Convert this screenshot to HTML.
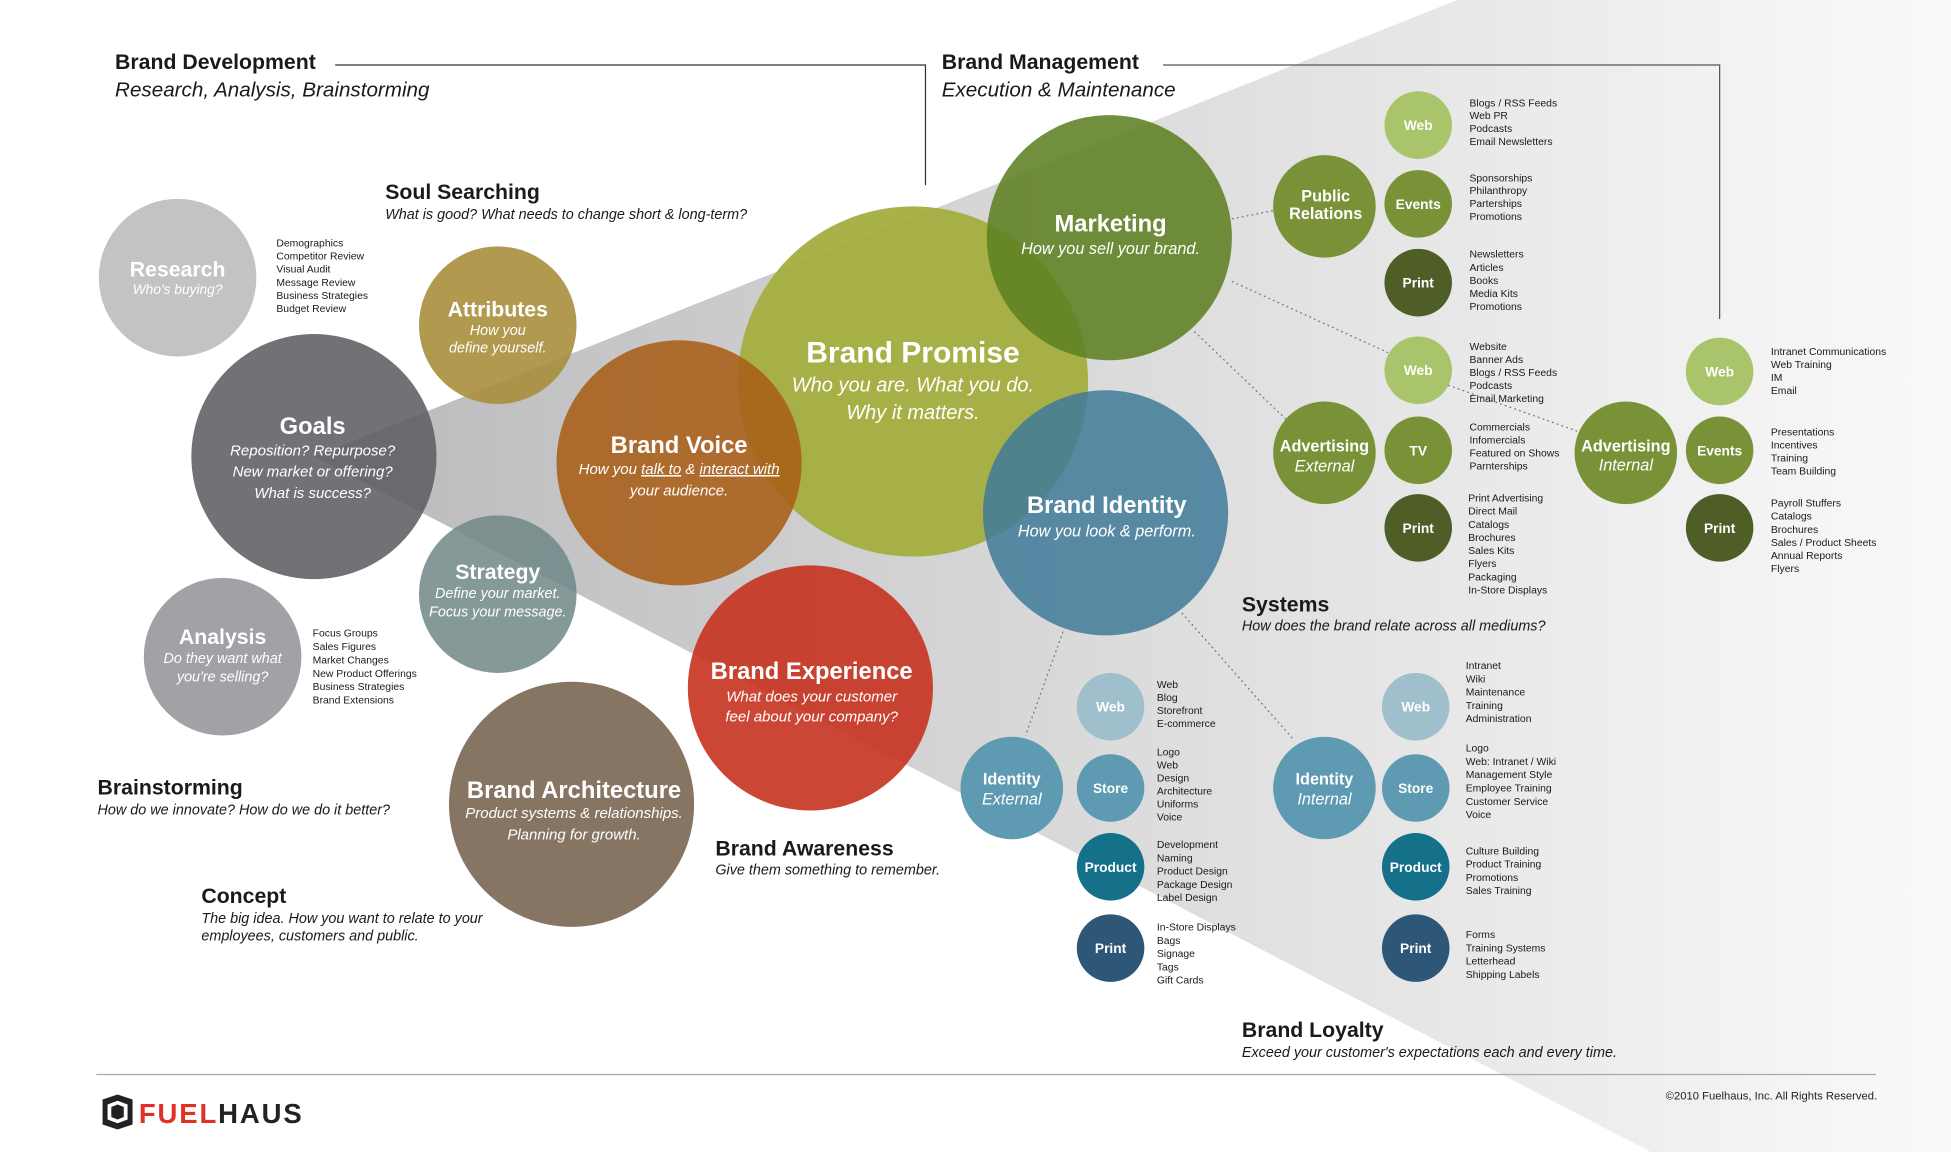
<!DOCTYPE html>
<html><head><meta charset="utf-8"><style>
html,body{margin:0;padding:0;background:#fff;width:1951px;height:1152px;overflow:hidden}
svg{display:block}
text{font-family:"Liberation Sans Narrow","Liberation Sans",sans-serif}
.h{font-weight:bold;font-size:17px;fill:#1a1a1a}
.s{font-style:italic;font-size:11.5px;fill:#1a1a1a}
.l{font-size:8.3px;fill:#1a1a1a}
.ct{fill:#fff;font-weight:bold;text-anchor:middle}
.ci{fill:#fff;font-style:italic;text-anchor:middle}
</style></head><body>
<svg width="1951" height="1152" viewBox="0 0 1560 921" preserveAspectRatio="none" xmlns="http://www.w3.org/2000/svg">
<defs><linearGradient id="g" x1="0" y1="0" x2="1" y2="0">
<stop offset="0" stop-color="#b9b9bb"/><stop offset="0.5" stop-color="#dcdcdd"/><stop offset="1" stop-color="#fafafa"/></linearGradient></defs>
<polygon points="251,365 1165,0 1560,0 1560,921 1320,921" fill="url(#g)"/>
<polyline points="268,52 740,52 740,148" fill="none" stroke="#333" stroke-width="1"/>
<polyline points="930,52 1375,52 1375,255" fill="none" stroke="#555" stroke-width="1"/>
<line x1="77" y1="859" x2="1500" y2="859" stroke="#aaa" stroke-width="1"/>
<g stroke="#777" stroke-width="1" stroke-dasharray="1.5,2.5" fill="none">
<line x1="985" y1="175" x2="1020" y2="168"/>
<line x1="985" y1="225" x2="1110" y2="282"/>
<line x1="1158" y1="308" x2="1262" y2="345"/>
<line x1="955" y1="265" x2="1028" y2="335"/>
<line x1="850" y1="505" x2="820" y2="588"/>
<line x1="945" y1="490" x2="1035" y2="592"/>
</g>
<g>
<circle cx="142" cy="222" r="63" fill="#c3c3c5"/>
<circle cx="178" cy="525" r="63" fill="#a2a2a6"/>
<circle cx="398" cy="260" r="63" fill="#a88f3c" opacity="0.9"/>
<circle cx="251" cy="365" r="98" fill="#5e5e63" opacity="0.88"/>
<circle cx="398" cy="475" r="63" fill="#6f8786" opacity="0.85"/>
<circle cx="457" cy="643" r="98" fill="#806e5a" opacity="0.95"/>
<circle cx="730" cy="305" r="140" fill="#a3ae3e" opacity="0.95"/>
<circle cx="543" cy="370" r="98" fill="#a85e18" opacity="0.88"/>
<circle cx="648" cy="550" r="98" fill="#c7321f" opacity="0.9"/>
<circle cx="887" cy="190" r="98" fill="#5f7f22" opacity="0.88"/>
<circle cx="884" cy="410" r="98" fill="#3f7a99" opacity="0.85"/>
</g>
<g>
<circle cx="1059" cy="165" r="41" fill="#7a9237"/>
<circle cx="1134" cy="100" r="27" fill="#a9c46a"/>
<circle cx="1134" cy="163" r="27" fill="#7a9237"/>
<circle cx="1134" cy="226" r="27" fill="#4e5e26"/>
<circle cx="1059" cy="362" r="41" fill="#7a9237"/>
<circle cx="1134" cy="296" r="27" fill="#a9c46a"/>
<circle cx="1134" cy="360" r="27" fill="#7a9237"/>
<circle cx="1134" cy="422" r="27" fill="#4e5e26"/>
<circle cx="1300" cy="362" r="41" fill="#7a9237"/>
<circle cx="1375" cy="297" r="27" fill="#a9c46a"/>
<circle cx="1375" cy="360" r="27" fill="#7a9237"/>
<circle cx="1375" cy="422" r="27" fill="#4e5e26"/>
<circle cx="809" cy="630" r="41" fill="#5f9ab3"/>
<circle cx="888" cy="565" r="27" fill="#9fbfcc"/>
<circle cx="888" cy="630" r="27" fill="#5f9ab3"/>
<circle cx="888" cy="693" r="27" fill="#15708a"/>
<circle cx="888" cy="758" r="27" fill="#2e5676"/>
<circle cx="1059" cy="630" r="41" fill="#5f9ab3"/>
<circle cx="1132" cy="565" r="27" fill="#9fbfcc"/>
<circle cx="1132" cy="630" r="27" fill="#5f9ab3"/>
<circle cx="1132" cy="693" r="27" fill="#15708a"/>
<circle cx="1132" cy="758" r="27" fill="#2e5676"/>
</g>
<g font-size="11">
<text class="ct" x="1134" y="104">Web</text><text class="ct" x="1134" y="167">Events</text><text class="ct" x="1134" y="230">Print</text>
<text class="ct" x="1134" y="300">Web</text><text class="ct" x="1134" y="364">TV</text><text class="ct" x="1134" y="426">Print</text>
<text class="ct" x="1375" y="301">Web</text><text class="ct" x="1375" y="364">Events</text><text class="ct" x="1375" y="426">Print</text>
<text class="ct" x="888" y="569">Web</text><text class="ct" x="888" y="634">Store</text><text class="ct" x="888" y="697">Product</text><text class="ct" x="888" y="762">Print</text>
<text class="ct" x="1132" y="569">Web</text><text class="ct" x="1132" y="634">Store</text><text class="ct" x="1132" y="697">Product</text><text class="ct" x="1132" y="762">Print</text>
</g>
<g font-size="13">
<text class="ct" x="1060" y="161">Public</text><text class="ct" x="1060" y="175">Relations</text>
<text class="ct" x="1059" y="361">Advertising</text><text class="ci" x="1059" y="377">External</text>
<text class="ct" x="1300" y="361">Advertising</text><text class="ci" x="1300" y="376">Internal</text>
<text class="ct" x="809" y="627">Identity</text><text class="ci" x="809" y="643">External</text>
<text class="ct" x="1059" y="627">Identity</text><text class="ci" x="1059" y="643">Internal</text>
</g>
<text class="ct" x="142" y="221" font-size="17" fill="#f4f4f4">Research</text><text class="ci" x="142" y="235" font-size="11">Who's buying?</text>
<text class="ct" x="178" y="515" font-size="17">Analysis</text><text class="ci" x="178" y="530" font-size="11.5">Do they want what</text><text class="ci" x="178" y="545" font-size="11.5">you're selling?</text>
<text class="ct" x="398" y="253" font-size="17">Attributes</text><text class="ci" x="398" y="268" font-size="11.5">How you</text><text class="ci" x="398" y="282" font-size="11.5">define yourself.</text>
<text class="ct" x="250" y="347" font-size="19">Goals</text><text class="ci" x="250" y="364" font-size="12">Reposition? Repurpose?</text><text class="ci" x="250" y="381" font-size="12">New market or offering?</text><text class="ci" x="250" y="398" font-size="12">What is success?</text>
<text class="ct" x="398" y="463" font-size="17">Strategy</text><text class="ci" x="398" y="478" font-size="11.5">Define your market.</text><text class="ci" x="398" y="493" font-size="11.5">Focus your message.</text>
<text class="ct" x="543" y="362" font-size="19">Brand Voice</text><text class="ci" x="543" y="379" font-size="12">How you <tspan text-decoration="underline">talk to</tspan> &amp; <tspan text-decoration="underline">interact with</tspan></text><text class="ci" x="543" y="396" font-size="12">your audience.</text>
<text class="ct" x="730" y="290" font-size="24">Brand Promise</text><text class="ci" x="730" y="313" font-size="16">Who you are. What you do.</text><text class="ci" x="730" y="335" font-size="16">Why it matters.</text>
<text class="ct" x="888" y="185" font-size="19">Marketing</text><text class="ci" x="888" y="203" font-size="13">How you sell your brand.</text>
<text class="ct" x="885" y="410" font-size="19">Brand Identity</text><text class="ci" x="885" y="429" font-size="13">How you look &amp; perform.</text>
<text class="ct" x="649" y="543" font-size="19">Brand Experience</text><text class="ci" x="649" y="561" font-size="12">What does your customer</text><text class="ci" x="649" y="577" font-size="12">feel about your company?</text>
<text class="ct" x="459" y="638" font-size="19">Brand Architecture</text><text class="ci" x="459" y="654" font-size="12">Product systems &amp; relationships.</text><text class="ci" x="459" y="671" font-size="12">Planning for growth.</text>
<text class="h" x="92" y="55">Brand Development</text><text class="s" x="92" y="77" style="font-size:16.5px">Research, Analysis, Brainstorming</text>
<text class="h" x="753" y="55">Brand Management</text><text class="s" x="753" y="77" style="font-size:16.5px">Execution &amp; Maintenance</text>
<text class="h" x="308" y="159">Soul Searching</text><text class="s" x="308" y="175">What is good? What needs to change short &amp; long-term?</text>
<text class="h" x="78" y="635">Brainstorming</text><text class="s" x="78" y="651">How do we innovate? How do we do it better?</text>
<text class="h" x="161" y="722">Concept</text><text class="s" x="161" y="738">The big idea. How you want to relate to your</text><text class="s" x="161" y="752">employees, customers and public.</text>
<text class="h" x="572" y="684">Brand Awareness</text><text class="s" x="572" y="699">Give them something to remember.</text>
<text class="h" x="993" y="489">Systems</text><text class="s" x="993" y="504">How does the brand relate across all mediums?</text>
<text class="h" x="993" y="829">Brand Loyalty</text><text class="s" x="993" y="845">Exceed your customer's expectations each and every time.</text>
<text x="1501" y="879" font-size="9" text-anchor="end" fill="#222">©2010 Fuelhaus, Inc. All Rights Reserved.</text>
<g transform="translate(82,875)"><polygon points="0,4 12,0 24,4 24,24 12,28 0,24" fill="#222"/><polygon points="4,8 12,5 20,8 20,20 12,23 4,20" fill="#fff"/><polygon points="7,10 12,8 17,10 17,18 12,20 7,18" fill="#222"/></g>
<text x="111" y="898" font-size="22" font-weight="bold" font-family="Liberation Sans" letter-spacing="1.5"><tspan fill="#e03127">FUEL</tspan><tspan fill="#222">HAUS</tspan></text>
<g class="l">
<text x="221" y="197" class="l">Demographics<tspan x="221" dy="10.5">Competitor Review</tspan><tspan x="221" dy="10.5">Visual Audit</tspan><tspan x="221" dy="10.5">Message Review</tspan><tspan x="221" dy="10.5">Business Strategies</tspan><tspan x="221" dy="10.5">Budget Review</tspan></text>
<text x="250" y="509" class="l">Focus Groups<tspan x="250" dy="10.7">Sales Figures</tspan><tspan x="250" dy="10.7">Market Changes</tspan><tspan x="250" dy="10.7">New Product Offerings</tspan><tspan x="250" dy="10.7">Business Strategies</tspan><tspan x="250" dy="10.7">Brand Extensions</tspan></text>
<text x="1175" y="85" class="l">Blogs / RSS Feeds<tspan x="1175" dy="10.3">Web PR</tspan><tspan x="1175" dy="10.3">Podcasts</tspan><tspan x="1175" dy="10.3">Email Newsletters</tspan></text>
<text x="1175" y="145" class="l">Sponsorships<tspan x="1175" dy="10.3">Philanthropy</tspan><tspan x="1175" dy="10.3">Parterships</tspan><tspan x="1175" dy="10.3">Promotions</tspan></text>
<text x="1175" y="206" class="l">Newsletters<tspan x="1175" dy="10.5">Articles</tspan><tspan x="1175" dy="10.5">Books</tspan><tspan x="1175" dy="10.5">Media Kits</tspan><tspan x="1175" dy="10.5">Promotions</tspan></text>
<text x="1175" y="280" class="l">Website<tspan x="1175" dy="10.4">Banner Ads</tspan><tspan x="1175" dy="10.4">Blogs / RSS Feeds</tspan><tspan x="1175" dy="10.4">Podcasts</tspan><tspan x="1175" dy="10.4">Email Marketing</tspan></text>
<text x="1175" y="344" class="l">Commercials<tspan x="1175" dy="10.4">Infomercials</tspan><tspan x="1175" dy="10.4">Featured on Shows</tspan><tspan x="1175" dy="10.4">Parnterships</tspan></text>
<text x="1174" y="401" class="l">Print Advertising<tspan x="1174" dy="10.5">Direct Mail</tspan><tspan x="1174" dy="10.5">Catalogs</tspan><tspan x="1174" dy="10.5">Brochures</tspan><tspan x="1174" dy="10.5">Sales Kits</tspan><tspan x="1174" dy="10.5">Flyers</tspan><tspan x="1174" dy="10.5">Packaging</tspan><tspan x="1174" dy="10.5">In-Store Displays</tspan></text>
<text x="1416" y="284" class="l">Intranet Communications<tspan x="1416" dy="10.4">Web Training</tspan><tspan x="1416" dy="10.4">IM</tspan><tspan x="1416" dy="10.4">Email</tspan></text>
<text x="1416" y="348" class="l">Presentations<tspan x="1416" dy="10.4">Incentives</tspan><tspan x="1416" dy="10.4">Training</tspan><tspan x="1416" dy="10.4">Team Building</tspan></text>
<text x="1416" y="405" class="l">Payroll Stuffers<tspan x="1416" dy="10.5">Catalogs</tspan><tspan x="1416" dy="10.5">Brochures</tspan><tspan x="1416" dy="10.5">Sales / Product Sheets</tspan><tspan x="1416" dy="10.5">Annual Reports</tspan><tspan x="1416" dy="10.5">Flyers</tspan></text>
<text x="925" y="550" class="l">Web<tspan x="925" dy="10.4">Blog</tspan><tspan x="925" dy="10.4">Storefront</tspan><tspan x="925" dy="10.4">E-commerce</tspan></text>
<text x="925" y="604" class="l">Logo<tspan x="925" dy="10.4">Web</tspan><tspan x="925" dy="10.4">Design</tspan><tspan x="925" dy="10.4">Architecture</tspan><tspan x="925" dy="10.4">Uniforms</tspan><tspan x="925" dy="10.4">Voice</tspan></text>
<text x="925" y="678" class="l">Development<tspan x="925" dy="10.6">Naming</tspan><tspan x="925" dy="10.6">Product Design</tspan><tspan x="925" dy="10.6">Package Design</tspan><tspan x="925" dy="10.6">Label Design</tspan></text>
<text x="925" y="744" class="l">In-Store Displays<tspan x="925" dy="10.6">Bags</tspan><tspan x="925" dy="10.6">Signage</tspan><tspan x="925" dy="10.6">Tags</tspan><tspan x="925" dy="10.6">Gift Cards</tspan></text>
<text x="1172" y="535" class="l">Intranet<tspan x="1172" dy="10.6">Wiki</tspan><tspan x="1172" dy="10.6">Maintenance</tspan><tspan x="1172" dy="10.6">Training</tspan><tspan x="1172" dy="10.6">Administration</tspan></text>
<text x="1172" y="601" class="l">Logo<tspan x="1172" dy="10.6">Web: Intranet / Wiki</tspan><tspan x="1172" dy="10.6">Management Style</tspan><tspan x="1172" dy="10.6">Employee Training</tspan><tspan x="1172" dy="10.6">Customer Service</tspan><tspan x="1172" dy="10.6">Voice</tspan></text>
<text x="1172" y="683" class="l">Culture Building<tspan x="1172" dy="10.6">Product Training</tspan><tspan x="1172" dy="10.6">Promotions</tspan><tspan x="1172" dy="10.6">Sales Training</tspan></text>
<text x="1172" y="750" class="l">Forms<tspan x="1172" dy="10.6">Training Systems</tspan><tspan x="1172" dy="10.6">Letterhead</tspan><tspan x="1172" dy="10.6">Shipping Labels</tspan></text>
</g>
</svg>
</body></html>
